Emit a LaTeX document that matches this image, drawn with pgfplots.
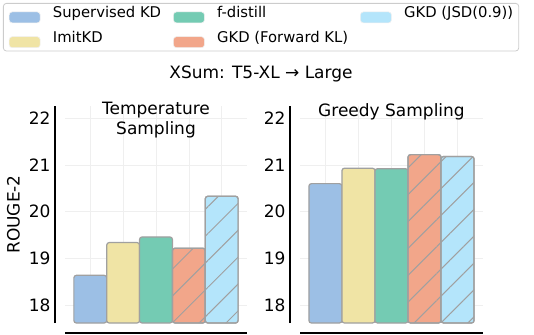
\documentclass[border=0pt]{standalone}
\usepackage{pgfplots}
\pgfplotsset{compat=1.18}
\usepackage{fontspec}
\setmainfont{DejaVu Sans}
\usetikzlibrary{patterns.meta}

\definecolor{cSup}{HTML}{9CBFE5}
\definecolor{cImit}{HTML}{F0E4A5}
\definecolor{cFd}{HTML}{74CBB3}
\definecolor{cFwd}{HTML}{F2A68A}
\definecolor{cJsd}{HTML}{B4E5FB}
\definecolor{edgegray}{HTML}{A0A0A0}
\definecolor{gridgray}{HTML}{EFEFEF}

\newcommand{\bigfont}{\fontsize{17}{20.4}\selectfont}
\newcommand{\legfont}{\fontsize{14.8}{17.8}\selectfont}

\pgfplotsset{
  panel/.style={
    scale only axis, height=217pt,
    ymin=17.62, ymax=22.26,
    xmin=-0.77, xmax=4.77,
    ytick={18,19,20,21,22},
    xtick={0,1,2,3,4}, xticklabels={},
    major tick length=0pt,
    axis line style={draw=none},
    grid=major, major grid style={draw=gridgray, line width=0.6pt},
    /pgf/number format/assume math mode=true,
    tick label style={font=\bigfont},
    yticklabel style={xshift=-11pt},
    ybar, bar width=1, bar shift=0pt,
    title style={font=\bigfont, align=center, inner sep=0pt, anchor=north},
  },
  barstyle/.style={draw=edgegray, line width=1.2pt, rounded corners=2.5pt, fill=#1},
  hatched/.style={postaction={pattern={Lines[angle=45,distance=19pt,line width=1pt]}, pattern color=edgegray}},
}

\begin{document}
\begin{tikzpicture}
\path[use as bounding box] (0,0) rectangle (534pt,-334pt);

\begin{axis}[panel, name=L,
  at={(65pt,-323pt)}, anchor=south west, width=182pt,
  title={Temperature\\Sampling},
  title style={at={(axis description cs:0.5,0.993)}},
  ylabel={ROUGE-2},
  every axis y label/.style={at={(axis description cs:-0.283,0.5)}, rotate=90, anchor=center, font=\bigfont},
  legend columns=3,
  legend image code/.code={\draw[#1, draw=white!60!gray!30, line width=0.6pt] (0pt,-5.5pt) rectangle (31pt,5.5pt);},
  legend style={at={(axis description cs:-0.3407,1.4747)}, anchor=north west,
    draw=black!20, rounded corners=3pt, line width=0.8pt, font=\legfont,
    inner xsep=5.5pt, inner ysep=3pt,
    nodes={inner sep=0pt, text height=11pt, text depth=3.5pt, anchor=base west},
    row sep=8pt,
    /tikz/every odd column/.style={column sep=12.4pt},
    /tikz/every even column/.style={column sep=12pt},
    /tikz/column 6/.style={column sep=6pt}},
]
\addplot[barstyle=cSup, forget plot] coordinates {(0,18.64)};
\addplot[barstyle=cImit, forget plot] coordinates {(1,19.34)};
\addplot[barstyle=cFd, forget plot] coordinates {(2,19.46)};
\addplot[barstyle=cFwd, hatched, forget plot] coordinates {(3,19.22)};
\addplot[barstyle=cJsd, hatched, forget plot] coordinates {(4,20.33)};
\addlegendimage{fill=cSup}
\addlegendentry{Supervised KD}
\addlegendimage{fill=cFd}
\addlegendentry{f-distill}
\addlegendimage{fill=cJsd}
\addlegendentry{GKD (JSD(0.9))}
\addlegendimage{fill=cImit}
\addlegendentry{ImitKD}
\addlegendimage{fill=cFwd}
\addlegendentry{GKD (Forward KL)}
\end{axis}

\begin{axis}[panel, name=R,
  at={(300pt,-323pt)}, anchor=south west, width=183pt,
  title={Greedy Sampling},
  title style={at={(axis description cs:0.5,0.983)}},
]
\addplot[barstyle=cSup] coordinates {(0,20.60)};
\addplot[barstyle=cImit] coordinates {(1,20.93)};
\addplot[barstyle=cFd] coordinates {(2,20.92)};
\addplot[barstyle=cFwd, hatched] coordinates {(3,21.22)};
\addplot[barstyle=cJsd, hatched] coordinates {(4,21.18)};
\end{axis}

% offset spines
\foreach \ax in {L,R}{
  \draw[black, line width=1.3pt] ([xshift=-10pt]\ax.south west) -- ([xshift=-10pt]\ax.north west);
  \draw[black, line width=2pt] ([yshift=-10pt]\ax.south west) -- ([yshift=-10pt]\ax.south east);
}

\node[font=\bigfont, anchor=base] at (261pt,-78.3pt) {XSum: T5-XL → Large};
\end{tikzpicture}
\end{document}
